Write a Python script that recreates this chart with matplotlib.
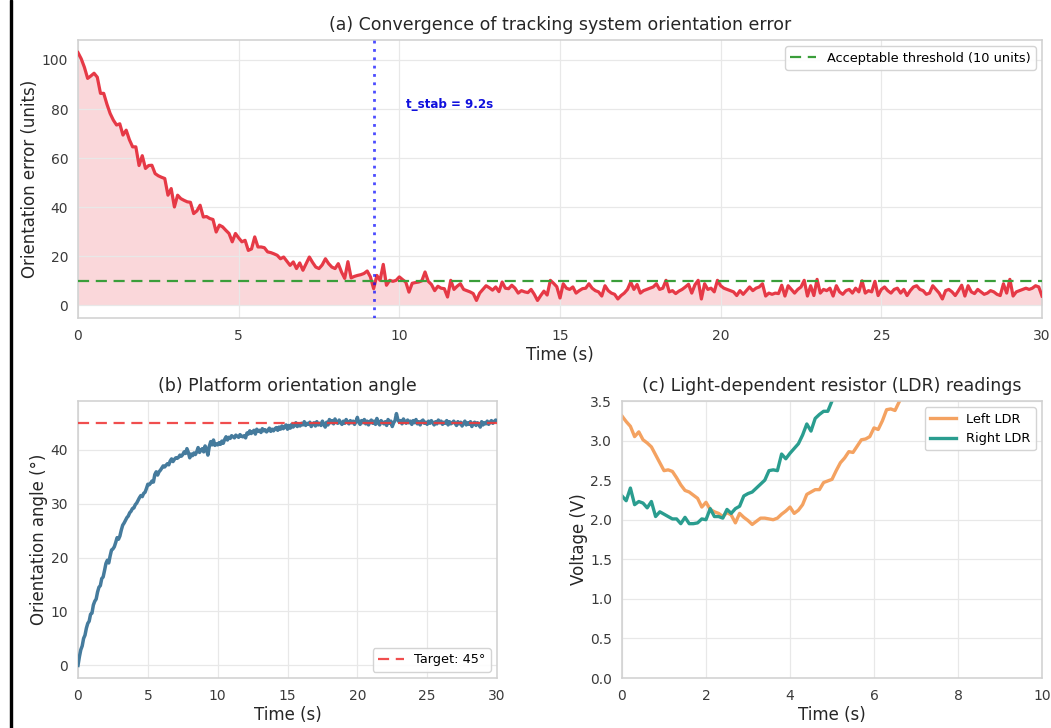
import matplotlib
matplotlib.use("Agg")
import matplotlib.pyplot as plt
import numpy as np
from matplotlib.patches import Rectangle

# ---------------- data ----------------
t_err = np.round(np.arange(0, 30.01, 0.1), 1)
err_values = [
    103.0, 100.5, 97.0, 92.5, 93.5, 94.6, 93.0, 86.4, 86.4, 82.0,
    78.2, 75.5, 73.5, 74.0, 69.4, 71.4, 67.5, 64.6, 64.6, 57.0,
    61.0, 55.8, 57.0, 57.1, 53.7, 52.8, 52.2, 51.7, 44.9, 47.6,
    40.1, 44.9, 43.5, 42.8, 42.2, 42.0, 37.4, 38.5, 40.8, 36.0,
    36.2, 35.4, 35.0, 29.9, 32.7, 32.0, 30.6, 29.3, 25.9, 29.3,
    27.5, 25.9, 26.5, 22.4, 23.0, 27.9, 23.8, 23.8, 23.5, 21.8,
    21.5, 21.0, 20.4, 19.0, 19.7, 18.0, 16.3, 17.7, 15.0, 17.3,
    14.3, 17.0, 19.7, 17.5, 15.6, 15.0, 16.5, 19.0, 17.0, 15.6,
    15.0, 17.0, 13.6, 11.0, 17.8, 11.2, 11.8, 12.2, 12.5, 13.0,
    14.0, 11.6, 6.8, 12.2, 10.2, 16.7, 8.2, 10.2, 9.8, 10.2,
    11.6, 10.5, 9.5, 5.4, 9.0, 9.3, 9.5, 10.0, 13.6, 9.8,
    8.5, 6.0, 7.8, 7.0, 6.8, 3.4, 10.2, 6.5, 7.8, 8.8,
    6.5, 6.0, 5.5, 4.8, 2.0, 5.0, 6.5, 8.0, 7.2, 6.2,
    7.5, 5.6, 9.5, 7.0, 6.8, 8.2, 7.0, 5.0, 6.0, 5.5,
    5.2, 6.5, 4.5, 2.0, 4.0, 5.8, 4.2, 10.2, 9.0, 7.6,
    3.0, 8.8, 7.0, 6.5, 7.5, 5.0, 6.0, 6.8, 7.0, 8.8,
    7.0, 6.0, 5.5, 3.8, 8.0, 6.0, 5.0, 4.5, 2.6, 4.0,
    5.0, 6.5, 9.5, 6.5, 8.5, 5.0, 6.0, 6.5, 7.0, 7.5,
    8.8, 6.5, 7.0, 10.2, 5.5, 6.0, 4.8, 5.8, 6.5, 7.5,
    8.6, 5.0, 8.4, 10.2, 2.6, 8.8, 6.5, 7.0, 5.5, 10.2,
    8.0, 7.0, 6.5, 6.0, 5.5, 4.0, 6.0, 4.5, 6.0, 7.5,
    6.0, 7.0, 7.5, 8.8, 3.8, 5.0, 4.5, 5.0, 4.8, 8.2,
    3.8, 8.0, 6.5, 5.0, 6.5, 7.5, 10.2, 3.8, 8.0, 4.0,
    10.6, 5.0, 6.5, 6.0, 7.0, 3.8, 8.0, 5.5, 4.5, 6.0,
    6.5, 5.0, 7.0, 5.5, 10.0, 5.0, 6.0, 5.5, 9.8, 4.0,
    6.5, 7.5, 6.0, 5.0, 6.5, 7.0, 5.0, 6.5, 4.0, 6.0,
    7.5, 8.0, 6.5, 6.0, 4.5, 5.0, 8.0, 6.5, 5.0, 2.6,
    6.0, 6.5, 5.5, 4.0, 6.0, 8.2, 3.8, 8.0, 5.5, 4.8,
    6.5, 5.5, 4.5, 5.0, 6.0, 5.5, 4.5, 4.0, 8.8, 5.0,
    10.6, 3.8, 5.5, 6.0, 6.5, 7.0, 6.5, 7.0, 8.0, 7.5,
    3.8,
]
threshold = 10
t_stab = 9.2

t_ang = np.round(np.arange(0, 30.01, 0.1), 1)
angle_values = [
    0.0, 1.6, 2.9, 3.6, 5.0, 5.6, 6.9, 7.8, 8.2, 9.5,
    9.7, 11.2, 11.9, 12.3, 13.6, 14.5, 14.8, 16.1, 16.4, 17.6,
    18.9, 19.5, 19.0, 20.3, 21.4, 21.6, 22.0, 22.8, 23.7, 23.4,
    24.0, 25.1, 26.0, 26.4, 26.9, 27.4, 27.7, 28.3, 28.6, 29.1,
    29.2, 29.8, 30.1, 30.6, 31.1, 31.5, 31.3, 31.9, 32.1, 32.8,
    33.6, 33.5, 33.8, 34.2, 34.0, 35.4, 35.9, 35.3, 35.9, 36.2,
    36.6, 37.0, 36.8, 37.1, 37.4, 37.2, 37.9, 38.3, 37.8, 38.2,
    38.5, 38.4, 38.6, 39.0, 38.8, 39.1, 39.6, 39.3, 40.2, 39.5,
    38.5, 39.2, 38.9, 39.4, 39.1, 39.6, 40.4, 39.5, 39.9, 40.2,
    39.6, 40.7, 40.1, 39.0, 40.6, 41.5, 40.9, 41.8, 40.8, 41.1,
    40.9, 41.3, 41.0, 41.6, 41.2, 41.9, 42.4, 41.8, 42.3, 42.1,
    42.6, 42.4, 42.2, 42.7, 42.5, 42.3, 42.8, 42.5, 42.4, 42.6,
    42.2, 43.1, 42.9, 43.5, 43.0, 43.3, 43.6, 42.9, 43.8, 43.4,
    43.6, 43.2, 43.9, 43.5, 43.7, 43.3, 43.6, 44.0, 43.4, 43.8,
    43.5, 43.9, 44.1, 43.6, 44.2, 43.8, 44.4, 43.9, 44.3, 44.6,
    43.8, 44.5, 44.0, 44.7, 44.2, 44.5, 45.0, 44.3, 44.8, 44.4,
    44.9, 44.6, 45.2, 44.5, 44.9, 44.7, 45.1, 44.3, 44.8, 45.0,
    44.4, 45.2, 44.6, 44.9, 44.5, 45.3, 44.7, 44.2, 45.1, 44.6,
    45.6, 45.0, 45.4, 44.8, 45.7, 45.1, 44.9, 45.5, 45.0, 44.7,
    45.3, 44.9, 45.6, 45.1, 44.8, 45.4, 45.0, 45.3, 44.7, 45.2,
    46.0, 45.1, 44.7, 45.4, 45.0, 45.6, 44.8, 45.3, 44.6, 45.2,
    45.5, 44.9, 45.3, 44.7, 45.8, 45.0, 44.6, 45.4, 45.1, 44.8,
    45.2, 44.5, 45.6, 44.9, 45.3, 44.3, 45.0, 45.4, 46.7, 45.6,
    45.1, 45.4, 44.8, 45.7, 45.2, 44.9, 45.5, 45.0, 45.3, 44.7,
    45.4, 45.0, 45.6, 44.8, 45.2, 44.6, 45.3, 45.5, 44.9, 45.1,
    44.7, 45.3, 44.9, 45.4, 45.0, 44.6, 45.2, 44.8, 45.5, 45.0,
    45.3, 44.7, 45.1, 44.9, 45.4, 44.6, 45.2, 44.8, 45.0, 45.3,
    44.9, 44.5, 45.2, 44.8, 45.1, 44.4, 44.9, 45.3, 44.6, 45.0,
    44.7, 45.2, 44.3, 44.9, 45.1, 44.5, 45.0, 44.8, 44.2, 45.2,
    44.6, 45.0, 44.8, 45.3, 44.7, 45.1, 45.4, 44.9, 45.2, 45.5,
    45.4,
]
target_angle = 45

left_ldr = [
    3.31, 3.24, 3.18, 3.05, 3.11, 3.01, 2.97, 2.92, 2.82, 2.72,
    2.62, 2.63, 2.61, 2.53, 2.44, 2.37, 2.35, 2.31, 2.27, 2.16,
    2.22, 2.13, 2.10, 2.08, 2.04, 2.09, 2.06, 1.96, 2.08, 2.03,
    1.99, 1.94, 1.98, 2.02, 2.02, 2.01, 2.00, 2.02, 2.07, 2.11,
    2.16, 2.08, 2.12, 2.19, 2.32, 2.35, 2.38, 2.38, 2.47, 2.49,
    2.51, 2.62, 2.72, 2.78, 2.86, 2.85, 2.93, 3.01, 3.02, 3.05,
    3.16, 3.14, 3.25, 3.39, 3.40, 3.38, 3.49, 3.62, 3.70,
]
right_ldr = [
    2.30, 2.24, 2.40, 2.19, 2.23, 2.21, 2.15, 2.23, 2.04, 2.10,
    2.07, 2.04, 2.01, 2.01, 1.95, 2.03, 1.95, 1.95, 1.96, 2.01,
    2.00, 2.14, 2.04, 2.04, 2.02, 2.13, 2.08, 2.14, 2.17, 2.30,
    2.33, 2.35, 2.40, 2.45, 2.50, 2.62, 2.63, 2.62, 2.83, 2.77,
    2.84, 2.90, 2.96, 3.07, 3.21, 3.12, 3.28, 3.33, 3.37, 3.37,
    3.50, 3.60, 3.68,
]
t_left = np.round(np.arange(len(left_ldr)) * 0.1, 1)
t_right = np.round(np.arange(len(right_ldr)) * 0.1, 1)

# ---------------- style ----------------
plt.rcParams.update({
    "font.family": "DejaVu Sans",
    "axes.edgecolor": "#d0d0d0",
    "axes.linewidth": 1.1,
    "axes.grid": True,
    "grid.color": "#e8e8e8",
    "grid.linewidth": 0.9,
    "xtick.major.size": 0,
    "ytick.major.size": 0,
    "xtick.major.pad": 8,
    "ytick.major.pad": 7,
    "xtick.color": "#3a3a3a",
    "ytick.color": "#3a3a3a",
    "xtick.labelsize": 10,
    "ytick.labelsize": 10,
    "axes.labelcolor": "#262626",
    "axes.titlecolor": "#262626",
    "legend.fontsize": 9.3,
    "legend.edgecolor": "#d0d0d0",
    "legend.framealpha": 0.9,
})

RED = "#e63946"
BLUE = "#457b9d"
ORANGE = "#f4a261"
TEAL = "#2a9d8f"
GREEN = "#3a9e3a"

fig = plt.figure(figsize=(10.51, 7.28), dpi=100)
W, H = 1051, 728

def ax_px(x0, y0, x1, y1):
    return fig.add_axes([x0 / W, 1 - y1 / H, (x1 - x0) / W, (y1 - y0) / H])

# left black edge
fig.patches.append(Rectangle((9.5 / W, 0), 2.5 / W, 1, transform=fig.transFigure,
                             color="black", zorder=10))

# (a)
ax1 = ax_px(78, 40, 1042, 318)
ax1.plot(t_err, err_values, color=RED, lw=2.3, zorder=3)
ax1.fill_between(t_err, err_values, 0, color=RED, alpha=0.2, lw=0)
ax1.axhline(threshold, color=GREEN, ls="--", lw=1.6, dashes=(5, 3),
            label="Acceptable threshold (10 units)", zorder=4)
ax1.axvline(t_stab, color="blue", alpha=0.7, lw=2.0, dashes=(1, 2), zorder=4)
ax1.text(t_stab + 1.0, 82, f"t_stab = {t_stab}s", color="#1010dd",
         fontsize=8.6, fontweight="bold", va="center")
ax1.set_xlim(0, 30)
ax1.set_xticks([0, 5, 10, 15, 20, 25, 30])
ax1.set_yticks([0, 20, 40, 60, 80, 100])
ax1.set_xlabel("Time (s)", fontsize=12, labelpad=2)
ax1.set_ylabel("Orientation error (units)", fontsize=12, labelpad=2)
ax1.set_title("(a) Convergence of tracking system orientation error", fontsize=12.5, pad=7)
ax1.legend(loc="upper right")

# (b)
ax2 = ax_px(78, 401, 497, 678)
ax2.plot(t_ang, angle_values, color=BLUE, lw=2.5, zorder=3)
ax2.axhline(target_angle, color="#ef3b3b", ls="--", lw=1.6, dashes=(5, 3),
            alpha=0.9, label="Target: 45°", zorder=4)
ax2.set_xlim(0, 30)
ax2.set_xticks([0, 5, 10, 15, 20, 25, 30])
ax2.set_yticks([0, 10, 20, 30, 40])
ax2.set_xlabel("Time (s)", fontsize=12, labelpad=2)
ax2.set_ylabel("Orientation angle (°)", fontsize=12, labelpad=2)
ax2.set_title("(b) Platform orientation angle", fontsize=12.5, pad=7)
ax2.legend(loc="lower right")

# (c)
ax3 = ax_px(622, 401, 1042, 678)
ax3.plot(t_left, left_ldr, color=ORANGE, lw=2.4, label="Left LDR")
ax3.plot(t_right, right_ldr, color=TEAL, lw=2.4, label="Right LDR")
ax3.set_xlim(0, 10)
ax3.set_ylim(0, 3.5)
ax3.set_xticks([0, 2, 4, 6, 8, 10])
ax3.set_yticks([0.0, 0.5, 1.0, 1.5, 2.0, 2.5, 3.0, 3.5])
ax3.set_xlabel("Time (s)", fontsize=12, labelpad=2)
ax3.set_ylabel("Voltage (V)", fontsize=12, labelpad=2)
ax3.set_title("(c) Light-dependent resistor (LDR) readings", fontsize=12.5, pad=7)
ax3.legend(loc="upper right")

fig.savefig("out.png", dpi=100)
